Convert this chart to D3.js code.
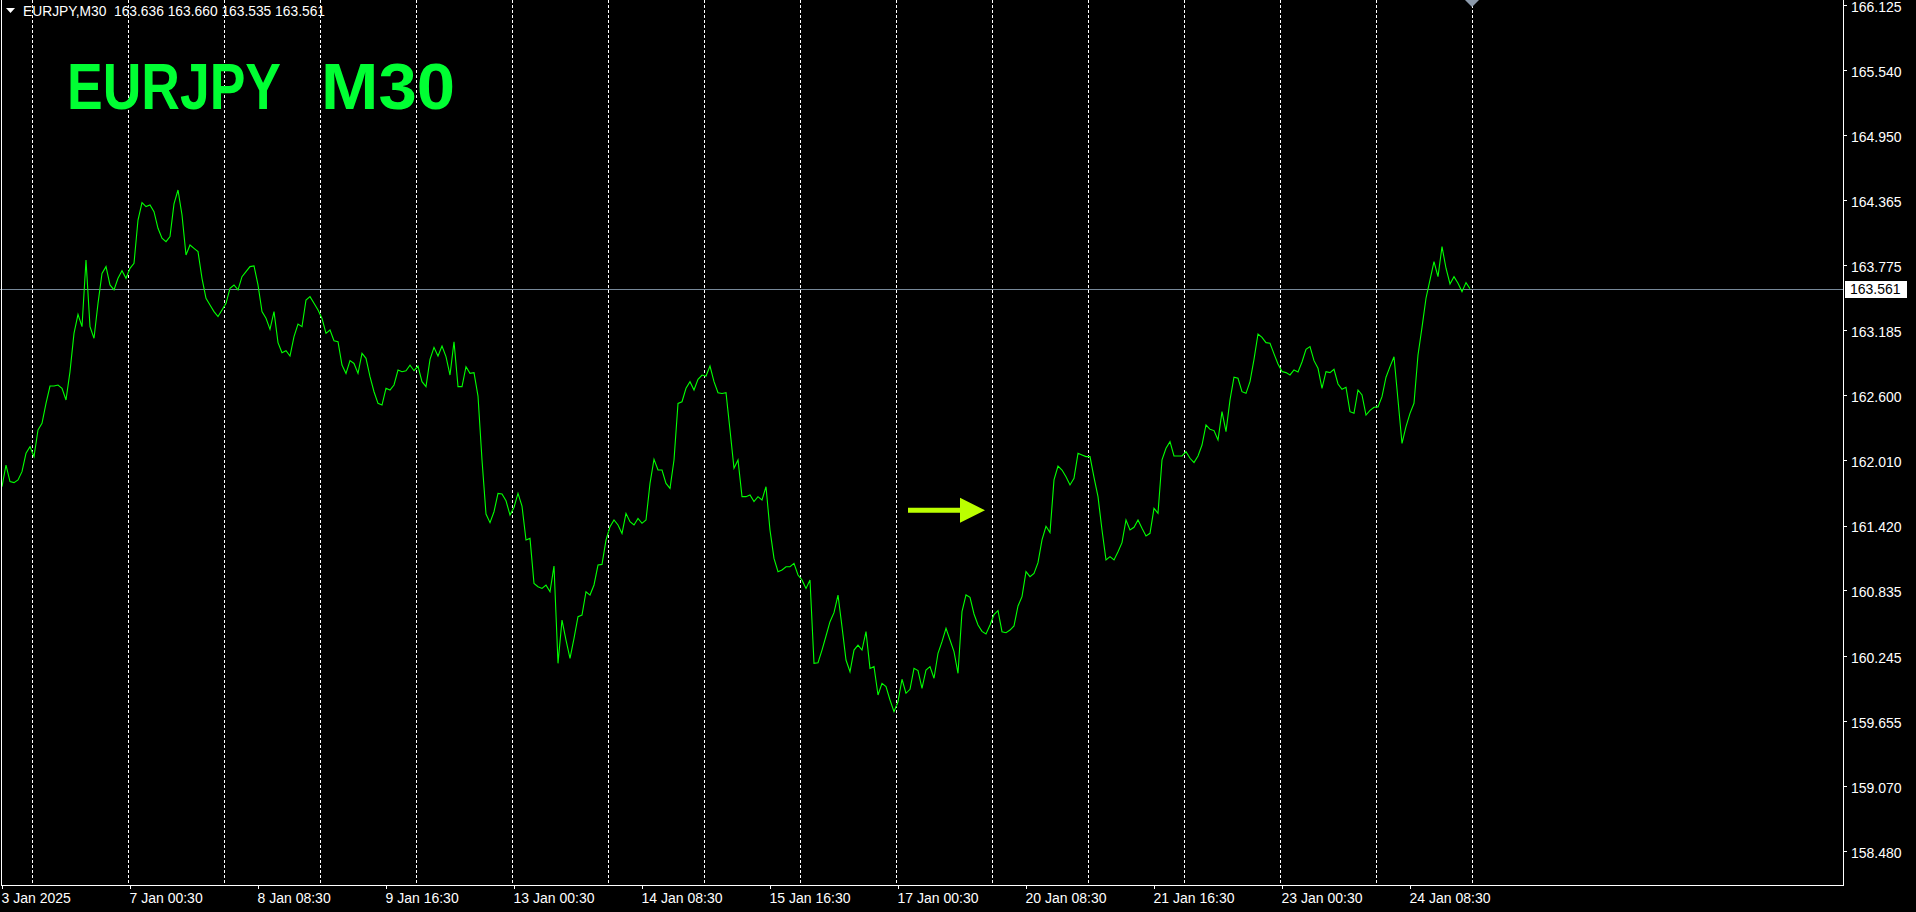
<!DOCTYPE html>
<html><head><meta charset="utf-8">
<script src="https://cdn.jsdelivr.net/npm/d3@7"></script>
<style>
html,body{margin:0;padding:0;background:#000;overflow:hidden}
text{font-family:"Liberation Sans",Arial,sans-serif}
</style>
</head><body>
<svg id="chart" width="1916" height="912"></svg>
<script>
// ---------- data ----------
const symbol = "EURJPY";
const timeframe = "M30";
const lastBar = ["163.636", "163.660", "163.535", "163.561"]; // open high low close
const lastClose = 163.561;

// hourly closes (every 2nd M30 bar), 3 Jan 16:30 .. 24 Jan 23:30
const closesJan03to08 = [
161.773,161.968,161.818,161.809,161.833,161.908,162.074,162.134,162.044,162.285,
162.345,162.526,162.682,162.682,162.691,162.661,162.556,162.812,163.158,163.330,
163.218,163.821,163.218,163.113,163.429,163.700,163.761,163.595,163.550,163.655,
163.724,163.655,163.745,163.791,164.182,164.339,164.303,164.318,164.257,164.107,
164.017,163.986,164.032,164.327,164.453,164.227,163.866,163.956,163.926,163.896,
163.655,163.474,163.414,163.354,163.309,163.369,163.429,163.565,163.595,163.550,
163.670,163.715,163.761,163.767,163.595,163.354,163.294,163.194,163.354,163.074,
162.983,163.001,162.953,163.128,163.242];
const closesJan08to13 = [
163.218,163.459,163.489,163.429,163.368,163.293,163.158,163.188,163.091,163.082,
162.871,162.796,162.911,162.886,162.796,162.977,162.932,162.766,162.630,162.525,
162.510,162.661,162.645,162.691,162.826,162.811,162.820,162.871,162.820,162.862,
162.721,162.676,162.923,163.031,162.953,163.043,162.947,162.781,163.082,162.676,
162.676,162.856,162.796,162.802,162.591,162.013,161.525,161.447,161.546,161.712,
161.706,161.645,161.516,161.585,161.712,161.597,161.290,161.305,160.898,160.868,
160.853,160.883,160.823,161.055,160.176,160.567,160.386,160.221,160.401,160.597,
160.612,160.823,160.793];
const closesJan13to16 = [
160.884,161.064,161.070,161.290,161.411,161.471,161.426,161.350,161.531,161.456,
161.426,161.486,161.441,161.471,161.802,162.019,161.923,161.923,161.802,161.757,
162.013,162.525,162.540,162.661,162.721,162.646,162.742,162.781,162.772,162.862,
162.721,162.621,162.615,162.621,162.284,161.938,162.013,161.682,161.682,161.697,
161.637,161.682,161.652,161.772,161.380,161.124,161.004,161.019,161.049,161.049,
161.079,160.974,160.929,160.853,160.929,160.176,160.182,160.296,160.423,160.552,
160.634,160.793,160.507,160.206,160.100,160.296,160.341,160.296,160.462,160.130,
160.146,159.890];
const closesJan16to21 = [
159.995,159.965,159.845,159.739,159.830,160.032,159.905,159.941,160.131,160.110,
159.950,160.116,160.146,160.041,160.267,160.372,160.492,160.387,160.282,160.086,
160.643,160.794,160.773,160.622,160.523,160.465,160.441,160.523,160.616,160.652,
160.462,160.453,160.477,160.514,160.694,160.779,161.005,160.959,160.989,161.086,
161.291,161.414,161.357,161.833,161.959,161.923,161.863,161.788,161.848,162.074,
162.059,162.044,162.044,161.857,161.682,161.381,161.110,161.140,161.110,161.185,
161.267,161.471,161.381,161.405,161.471,161.396,161.327,161.351,161.577,161.532,
162.014,162.119,162.179];
const closesJan21to24 = [
162.050,162.050,162.050,162.089,162.029,161.990,162.050,162.149,162.330,162.291,
162.279,162.194,162.450,162.270,162.556,162.761,162.752,162.631,162.616,162.722,
162.923,163.152,163.122,163.074,163.068,162.972,162.881,162.812,162.803,162.782,
162.827,162.809,162.899,163.014,163.038,162.911,162.842,162.661,162.812,162.803,
162.833,162.700,162.652,162.670,162.450,162.435,162.646,162.601,162.420,162.462,
162.490,162.493,162.586,162.761,162.857,162.947,162.556,162.164,162.315,162.435,
162.526,162.962,163.212,163.475,163.640,163.806,163.670,163.941,163.746,163.604,
163.670,163.610,163.535,163.616,163.561];

const barsPerSample = 2;          // one value per hour on an M30 chart
const totalBars = 735;            // bar slots up to the next day start
const xTickBars   = [0,64,128,192,256,320,384,448,512,576,640,704];
const xTickLabels = ["3 Jan 2025","7 Jan 00:30","8 Jan 08:30","9 Jan 16:30","13 Jan 00:30",
  "14 Jan 08:30","15 Jan 16:30","17 Jan 00:30","20 Jan 08:30","21 Jan 16:30","23 Jan 00:30","24 Jan 08:30"];
const daySeparatorBars = [15,63,111,159,207,255,303,351,399,447,495,543,591,639,687,735];
const yTicks = [166.125,165.540,164.950,164.365,163.775,163.185,162.600,162.010,
  161.420,160.835,160.245,159.655,159.070,158.480];
const priceDomain = [158.173, 166.170];
const arrowNote = {fromBar: 453, toBar: 491.5, price: 161.559};

// ---------- drawing ----------
const W = 1916, H = 912;
const plotRight = 1843, plotBottom = 885;
const svg = d3.select("#chart");
svg.append("rect").attr("width", W).attr("height", H).attr("fill", "#000");

const closes = [].concat(closesJan03to08, closesJan08to13, closesJan13to16, closesJan16to21, closesJan21to24);
const series = closes.map((v, k) => ({bar: k * barsPerSample, v}));

const x = d3.scaleLinear().domain([0, totalBars]).range([2, 2 + totalBars * 2]);
const y = d3.scaleLinear().domain(priceDomain).range([plotBottom, 0]);

// day separators (dashed)
svg.append("g").selectAll("line").data(daySeparatorBars).join("line")
  .attr("x1", d => Math.round(x(d)) + 0.5).attr("x2", d => Math.round(x(d)) + 0.5)
  .attr("y1", 0).attr("y2", plotBottom)
  .attr("stroke", "#fff").attr("stroke-width", 1).attr("stroke-dasharray", "3,2")
  .attr("shape-rendering", "crispEdges");

// current price line
svg.append("line")
  .attr("x1", 0).attr("x2", plotRight)
  .attr("y1", Math.round(y(lastClose)) + 0.5).attr("y2", Math.round(y(lastClose)) + 0.5)
  .attr("stroke", "#778899").attr("stroke-width", 1).attr("shape-rendering", "crispEdges");

// price line
svg.append("path").datum(series)
  .attr("fill", "none").attr("stroke", "#00ff00").attr("stroke-width", 1.1)
  .attr("stroke-linejoin", "miter")
  .attr("d", d3.line().x(d => x(d.bar)).y(d => y(d.v)));

// frame
const frame = svg.append("g").attr("stroke", "#fff").attr("stroke-width", 1).attr("shape-rendering", "crispEdges");
frame.append("line").attr("x1", 1.5).attr("x2", 1.5).attr("y1", 0).attr("y2", plotBottom + 0.5);
frame.append("line").attr("x1", 1).attr("x2", plotRight + 1).attr("y1", plotBottom + 0.5).attr("y2", plotBottom + 0.5);
frame.append("line").attr("x1", plotRight + 0.5).attr("x2", plotRight + 0.5).attr("y1", 0).attr("y2", plotBottom + 0.5);

// right price axis
const yAxis = svg.append("g").attr("transform", `translate(${plotRight},0)`)
  .call(d3.axisRight(y).tickValues(yTicks).tickFormat(d3.format(".3f")).tickSize(4).tickPadding(4));
yAxis.select(".domain").remove();
yAxis.selectAll(".tick line").attr("stroke", "#fff").attr("shape-rendering", "crispEdges");
yAxis.selectAll(".tick text").attr("fill", "#fff").attr("font-size", 14)
  .attr("font-family", "Liberation Sans, Arial, sans-serif").attr("dy", "0.45em");

// bottom time axis
const xAxis = svg.append("g").attr("transform", `translate(0,${plotBottom})`)
  .call(d3.axisBottom(x).tickValues(xTickBars).tickFormat((d, i) => xTickLabels[i]).tickSize(4));
xAxis.select(".domain").remove();
xAxis.selectAll(".tick line").attr("stroke", "#fff").attr("shape-rendering", "crispEdges");
xAxis.selectAll(".tick text").attr("fill", "#fff").attr("font-size", 14)
  .attr("font-family", "Liberation Sans, Arial, sans-serif")
  .attr("text-anchor", "start").attr("x", -1).attr("y", 18).attr("dy", 0);

// last price label
const ly = y(lastClose);
svg.append("rect").attr("x", plotRight + 2).attr("y", Math.round(ly) - 8).attr("width", 62).attr("height", 17).attr("fill", "#fff");
svg.append("text").attr("x", plotRight + 7).attr("y", ly).attr("dy", "0.38em")
  .attr("font-size", 14).attr("fill", "#000").text(d3.format(".3f")(lastClose));

// chart shift marker
const sx = x(totalBars);
svg.append("path").attr("d", `M${sx - 7},0 L${sx + 7},0 L${sx},7 Z`).attr("fill", "#8c9aab");

// header
svg.append("path").attr("d", "M6,8 L15,8 L10.5,13 Z").attr("fill", "#fff");
svg.append("text").attr("x", 23).attr("y", 16).attr("font-size", 13.8).attr("fill", "#fff")
  .style("white-space", "pre")
  .text(`${symbol},${timeframe}  ${lastBar.join(" ")}`);

// big title
const title = svg.append("text").attr("x", 67).attr("y", 109)
  .attr("font-family", "Lato, 'Open Sans', sans-serif").attr("font-weight", 700)
  .attr("font-size", 64).attr("fill", "#00ff33").style("white-space", "pre");
title.append("tspan").attr("textLength", 213).attr("lengthAdjust", "spacingAndGlyphs").text(symbol);
title.append("tspan").text("  ");
title.append("tspan").attr("x", 321).attr("textLength", 134).attr("lengthAdjust", "spacingAndGlyphs").text(timeframe);

// arrow annotation
const ax0 = x(arrowNote.fromBar), ax1 = x(arrowNote.toBar), ay = y(arrowNote.price);
const headLen = 25, headHalf = 12.5, shaftHalf = 2.5;
svg.append("path")
  .attr("d", `M${ax0},${ay - shaftHalf} L${ax1 - headLen},${ay - shaftHalf} L${ax1 - headLen},${ay - headHalf}
    L${ax1},${ay} L${ax1 - headLen},${ay + headHalf} L${ax1 - headLen},${ay + shaftHalf} L${ax0},${ay + shaftHalf} Z`)
  .attr("fill", "#bbff00");
</script>
</body></html>
